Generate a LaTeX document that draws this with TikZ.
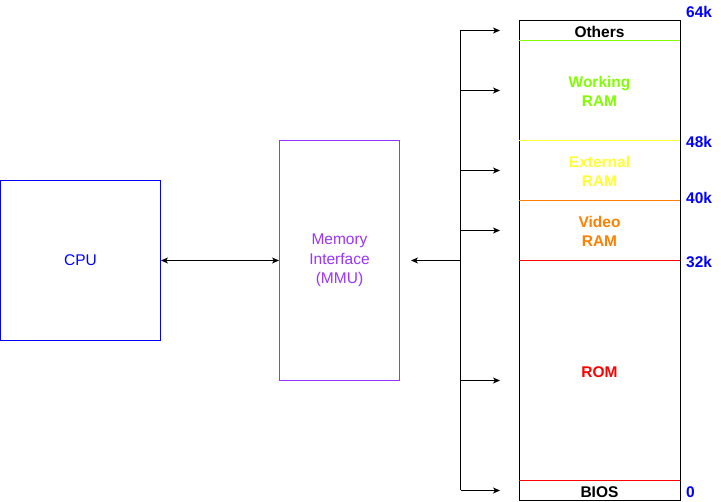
\documentclass[tikz,border=0pt]{standalone}
\usepackage{fontspec}
\setmainfont{Liberation Sans}
\usetikzlibrary{arrows.meta}
\definecolor{cpublue}{HTML}{0000FF}
\definecolor{mmupurple}{HTML}{9933FF}
\definecolor{wgreen}{HTML}{80FF00}
\definecolor{eyellow}{HTML}{FFFF33}
\definecolor{vorange}{HTML}{FF8000}
\definecolor{rred}{HTML}{FF0000}
\tikzset{
  conn/.style={line width=1pt, -{Stealth[length=7pt,width=6pt,inset=2pt]}},
  dconn/.style={line width=1pt, {Stealth[length=7pt,width=6pt,inset=2pt]}-{Stealth[length=7pt,width=6pt,inset=2pt]}},
  region/.style={font=\fontsize{15.5}{19}\selectfont\bfseries, align=center},
  addr/.style={font=\fontsize{15.5}{17}\selectfont\bfseries, text=cpublue, anchor=west, inner sep=0pt},
  sep/.style={line width=1pt}
}
\begin{document}
\begin{tikzpicture}[x=1pt,y=-1pt]
\useasboundingbox (0,0) rectangle (721,502);
% CPU
\node[draw=cpublue, line width=1pt, minimum width=160pt, minimum height=160pt, text=cpublue,
      font=\fontsize{15.5}{19.5}\selectfont, inner sep=0pt] (cpu) at (80.5,260.5) {CPU};
% MMU
\node[draw=mmupurple, line width=1pt, minimum width=120pt, minimum height=240pt, text=mmupurple,
      font=\fontsize{15.5}{19.5}\selectfont, align=center, inner sep=0pt] (mmu) at (339.5,260.5) {Memory\\Interface\\(MMU)};
% memory box
\node[draw=black, line width=1pt, minimum width=161pt, minimum height=480pt, inner sep=0pt] (mem) at (599.5,260.5) {};
% separators
\coordinate (s1l) at (519,40.5); \coordinate (s1r) at (680,40.5);
\coordinate (s2l) at (519,140.5); \coordinate (s2r) at (680,140.5);
\coordinate (s3l) at (519,200.5); \coordinate (s3r) at (680,200.5);
\coordinate (s4l) at (519,260.5); \coordinate (s4r) at (680,260.5);
\coordinate (s5l) at (519,480.5); \coordinate (s5r) at (680,480.5);
\draw[sep, wgreen] (s1l) -- (s1r);
\draw[sep, eyellow] (s2l) -- (s2r);
\draw[sep, vorange] (s3l) -- (s3r);
\draw[sep, rred] (s4l) -- (s4r);
\draw[sep, rred] (s5l) -- (s5r);
% region labels
\node[region] (others) at (599.5,32) {Others};
\node[region, text=wgreen] (wram) at (599.5,91.5) {Working\\RAM};
\node[region, text=eyellow] (eram) at (599.5,171.5) {External\\RAM};
\node[region, text=vorange] (vram) at (599.5,231.5) {Video\\RAM};
\node[region, text=rred] (rom) at (599.5,372) {ROM};
\node[region] (bios) at (599.5,492) {BIOS};
% address labels
\node[addr] (a64) at (686,12) {64k};
\node[addr] (a48) at (686,142) {48k};
\node[addr] (a40) at (686,198) {40k};
\node[addr] (a32) at (686,262) {32k};
\node[addr] (a0) at (686,492) {0};
% bus
\coordinate (bt) at (460.5,30.5);
\coordinate (bb) at (460.5,490.5);
\coordinate (bm) at (460.5,260.5);
\coordinate (t1) at (500,30.5);
\coordinate (t2) at (500,90.5);
\coordinate (t3) at (500,170.5);
\coordinate (t4) at (500,230.5);
\coordinate (t5) at (500,380.5);
\coordinate (t6) at (500,490.5);
\draw[line width=1pt] (bt) -- (bb);
\draw[conn] (bt) -- (t1);
\draw[conn] (460.5,90.5) -- (t2);
\draw[conn] (460.5,170.5) -- (t3);
\draw[conn] (460.5,230.5) -- (t4);
\draw[conn] (460.5,380.5) -- (t5);
\draw[conn] (bb) -- (t6);
\draw[conn, shorten >=11pt] (bm) -- (mmu.east);
\draw[dconn] (cpu.east) -- (mmu.west);
\end{tikzpicture}
\end{document}
